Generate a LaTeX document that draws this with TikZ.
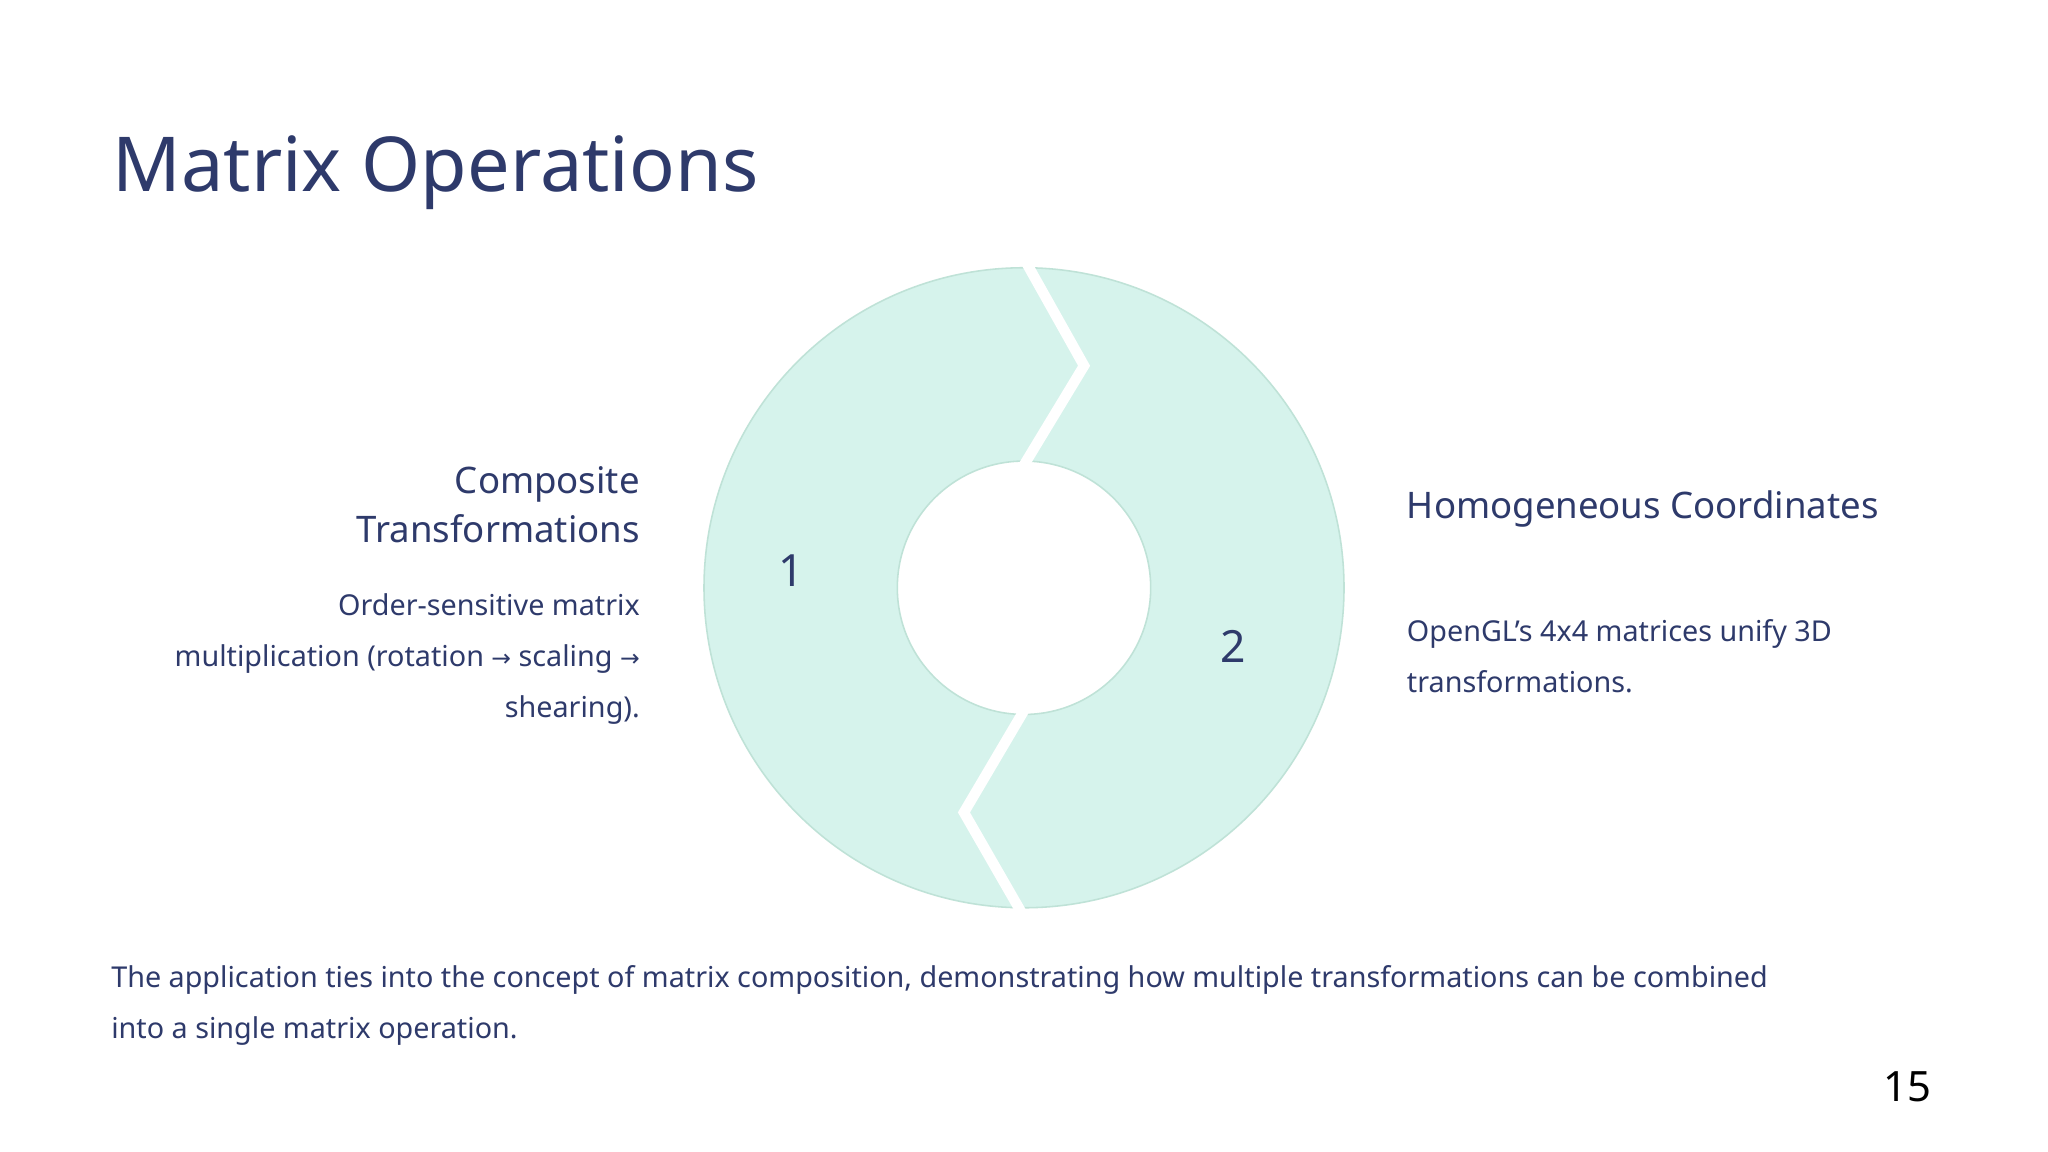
\documentclass[tikz,border=0pt]{standalone}
\usepackage{fontspec}
\setmainfont{Noto Sans}
\definecolor{navy}{HTML}{2E3A6B}
\definecolor{ringfill}{HTML}{D6F3EC}
\definecolor{ringedge}{HTML}{BFE2D7}
\begin{document}
\begin{tikzpicture}[x=1pt,y=-1pt,
  body/.style={font=\fontsize{22}{26}\selectfont, text=navy, inner sep=0pt},
  head/.style={font=\fontsize{28}{32}\selectfont\bfseries, text=navy, inner sep=0pt},
  num/.style={font=\fontsize{34}{38}\selectfont\bfseries, text=navy, inner sep=0pt}]
\useasboundingbox (0,0) rectangle (1568,882);
\fill[white] (0,0) rectangle (1568,882);
\node[anchor=base west, inner sep=0pt, text=navy, font=\fontsize{58}{62}\selectfont\bfseries] (title) at (86,147) {Matrix Operations};
% ring
\coordinate (c) at (784,450);
\fill[ringfill, draw=ringedge, line width=1.2pt, even odd rule] (c) circle[radius=245] (c) circle[radius=97];
\draw[white, line width=8pt] (784,198) -- (830,280) -- (784,356);
\draw[white, line width=8pt] (784,544) -- (738,622) -- (784,702);
\node[num, anchor=base] (n1) at (606,449) {1};
\node[num, anchor=base] (n2) at (944,507) {2};
% left
\node[head, anchor=base east] (l1) at (490,378) {Composite};
\node[head, anchor=base east] (l2) at (490,415) {Transformations};
\node[body, anchor=base east] (lb1) at (490,471) {Order-sensitive matrix};
\node[body, anchor=base east] (lb2) at (490,510) {multiplication (rotation {\fontspec{DejaVu Sans}\fontsize{18}{20}\selectfont→} scaling {\fontspec{DejaVu Sans}\fontsize{18}{20}\selectfont→}};
\node[body, anchor=base east] (lb3) at (490,549) {shearing).};
% right
\node[head, anchor=base west] (r1) at (1077,397) {Homogeneous Coordinates};
\node[body, anchor=base west] (rb1) at (1077,491) {OpenGL’s 4x4 matrices unify 3D};
\node[body, anchor=base west] (rb2) at (1077,530) {transformations.};
% bottom
\node[body, anchor=base west] (b1) at (85,756) {The application ties into the concept of matrix composition, demonstrating how multiple transformations can be combined};
\node[body, anchor=base west] (b2) at (85,795) {into a single matrix operation.};
\node[anchor=base east, inner sep=0pt, font=\fontsize{32}{36}\selectfont] (pg) at (1479,843) {15};
\end{tikzpicture}
\end{document}
